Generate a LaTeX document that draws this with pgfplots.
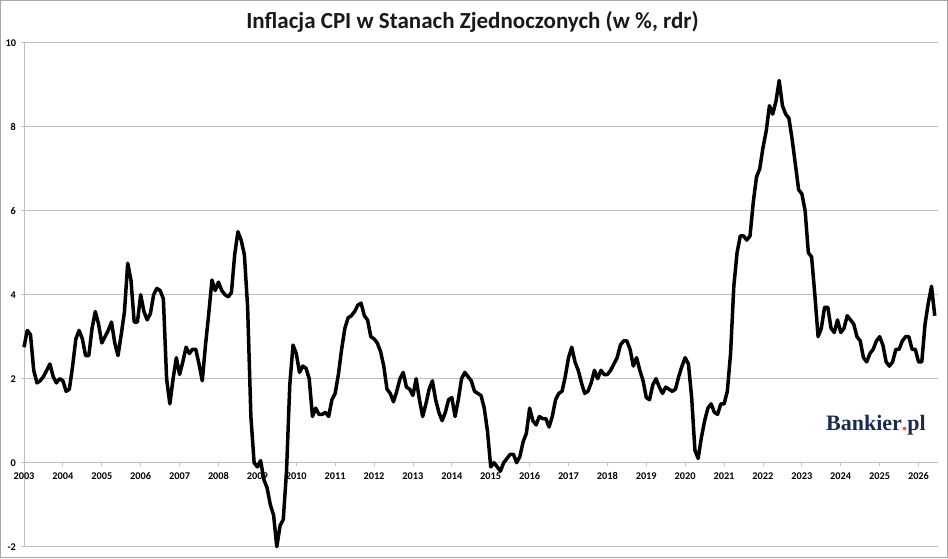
\documentclass[border=0pt]{standalone}
\usepackage{pgfplots}
\pgfplotsset{compat=1.18}
\usepackage{fontspec}
\setmainfont{Carlito}
\newfontfamily\logofont{Liberation Serif}
\definecolor{gridgray}{HTML}{BFBFBF}
\definecolor{framegray}{HTML}{A6A6A6}
\definecolor{navy}{HTML}{1B2A4E}
\definecolor{dotorange}{HTML}{E4572E}
\begin{document}
\begin{tikzpicture}
\useasboundingbox (-24pt,-11.3pt) rectangle (924pt,546.7pt);
\begin{axis}[
  at={(0,0)}, anchor=south west,
  scale only axis, width=914pt, height=504pt,
  xmin=2003, xmax=2026.5, ymin=-2, ymax=10,
  axis x line=middle, axis y line=left,
  hide obscured x ticks=false, hide obscured y ticks=false,
  x axis line style={-, draw=gridgray, line width=0.8pt},
  y axis line style={-, draw=gridgray, line width=0.8pt},
  xtick={2003,2004,...,2026},
  ytick={-2,0,2,4,6,8,10},
  yticklabels={-2,0,2,4,6,8,10},
  /pgf/number format/assume math mode=true,
  /pgf/number format/1000 sep={},
  ymajorgrids, grid style={gridgray, line width=0.8pt},
  tick align=outside, major tick length=3.5pt,
  tick style={gridgray, line width=0.8pt},
  ticklabel style={font=\fontsize{10.3}{12}\selectfont\bfseries, text=black},
  xticklabel style={yshift=-3pt},
  yticklabel style={xshift=-1pt},
  clip=false,
]
\addplot[black, line width=3.5pt, line join=round] table[x expr={2003+\coordindex/12}, y=y, row sep=\\] {
y\\
2.75\\ 3.15\\ 3.05\\ 2.2\\ 1.9\\ 1.95\\ 2.05\\ 2.2\\ 2.35\\ 2.05\\ 1.9\\ 2.0\\
1.95\\ 1.7\\ 1.75\\ 2.3\\ 2.95\\ 3.15\\ 2.95\\ 2.55\\ 2.55\\ 3.2\\ 3.6\\ 3.3\\
2.85\\ 3.0\\ 3.15\\ 3.35\\ 2.85\\ 2.55\\ 3.05\\ 3.6\\ 4.75\\ 4.35\\ 3.35\\ 3.35\\
4.0\\ 3.6\\ 3.4\\ 3.55\\ 4.0\\ 4.15\\ 4.1\\ 3.9\\ 2.0\\ 1.4\\ 2.0\\ 2.5\\
2.1\\ 2.4\\ 2.75\\ 2.6\\ 2.7\\ 2.7\\ 2.35\\ 1.95\\ 2.8\\ 3.55\\ 4.35\\ 4.1\\
4.3\\ 4.1\\ 4.0\\ 3.95\\ 4.05\\ 4.95\\ 5.5\\ 5.3\\ 4.95\\ 3.7\\ 1.1\\ 0.0\\
-0.1\\ 0.05\\ -0.4\\ -0.6\\ -1.0\\ -1.25\\ -2.0\\ -1.5\\ -1.35\\ -0.2\\ 1.85\\ 2.8\\
2.6\\ 2.15\\ 2.3\\ 2.25\\ 2.0\\ 1.1\\ 1.3\\ 1.15\\ 1.15\\ 1.2\\ 1.1\\ 1.5\\
1.65\\ 2.1\\ 2.7\\ 3.2\\ 3.45\\ 3.5\\ 3.6\\ 3.75\\ 3.8\\ 3.5\\ 3.4\\ 3.0\\
2.95\\ 2.85\\ 2.65\\ 2.3\\ 1.75\\ 1.65\\ 1.45\\ 1.7\\ 2.0\\ 2.15\\ 1.8\\ 1.75\\
1.6\\ 2.0\\ 1.5\\ 1.1\\ 1.4\\ 1.75\\ 1.95\\ 1.5\\ 1.2\\ 1.0\\ 1.2\\ 1.5\\
1.55\\ 1.1\\ 1.5\\ 2.0\\ 2.15\\ 2.05\\ 1.95\\ 1.7\\ 1.65\\ 1.6\\ 1.3\\ 0.75\\
-0.1\\ 0.0\\ -0.1\\ -0.2\\ 0.0\\ 0.1\\ 0.2\\ 0.2\\ 0.0\\ 0.15\\ 0.5\\ 0.7\\
1.3\\ 1.0\\ 0.9\\ 1.1\\ 1.05\\ 1.05\\ 0.85\\ 1.1\\ 1.5\\ 1.65\\ 1.7\\ 2.05\\
2.5\\ 2.75\\ 2.4\\ 2.2\\ 1.9\\ 1.65\\ 1.7\\ 1.9\\ 2.2\\ 2.0\\ 2.2\\ 2.1\\
2.1\\ 2.2\\ 2.35\\ 2.5\\ 2.8\\ 2.9\\ 2.9\\ 2.7\\ 2.3\\ 2.5\\ 2.2\\ 1.95\\
1.55\\ 1.5\\ 1.85\\ 2.0\\ 1.8\\ 1.65\\ 1.8\\ 1.75\\ 1.7\\ 1.75\\ 2.05\\ 2.3\\
2.5\\ 2.35\\ 1.55\\ 0.3\\ 0.1\\ 0.6\\ 1.0\\ 1.3\\ 1.4\\ 1.2\\ 1.15\\ 1.4\\
1.4\\ 1.7\\ 2.6\\ 4.2\\ 5.0\\ 5.4\\ 5.4\\ 5.3\\ 5.4\\ 6.2\\ 6.8\\ 7.0\\
7.5\\ 7.9\\ 8.5\\ 8.3\\ 8.6\\ 9.1\\ 8.5\\ 8.3\\ 8.2\\ 7.7\\ 7.1\\ 6.5\\
6.4\\ 6.0\\ 5.0\\ 4.9\\ 4.0\\ 3.0\\ 3.2\\ 3.7\\ 3.7\\ 3.2\\ 3.1\\ 3.4\\
3.1\\ 3.2\\ 3.5\\ 3.4\\ 3.3\\ 3.0\\ 2.9\\ 2.5\\ 2.4\\ 2.6\\ 2.7\\ 2.9\\
3.0\\ 2.8\\ 2.4\\ 2.3\\ 2.4\\ 2.7\\ 2.7\\ 2.9\\ 3.0\\ 3.0\\ 2.7\\ 2.7\\
2.4\\ 2.4\\ 3.3\\ 3.8\\ 4.2\\ 3.5\\
};
\end{axis}
\node[anchor=base, font=\fontsize{23}{27}\selectfont\bfseries, text=black!90] at (448.5pt,518.2pt) {Inflacja CPI w Stanach Zjednoczonych (w \%, rdr)};
\node[anchor=base west, inner sep=0pt, font=\logofont\bfseries\fontsize{22}{26}\selectfont] at (802pt,116.7pt) {\textcolor{navy}{Bankier}\textcolor{dotorange}{.}\textcolor{navy}{pl}};
\draw[framegray, line width=1pt] (-23.5pt,-10.8pt) rectangle (923.5pt,546.2pt);
\end{tikzpicture}
\end{document}
